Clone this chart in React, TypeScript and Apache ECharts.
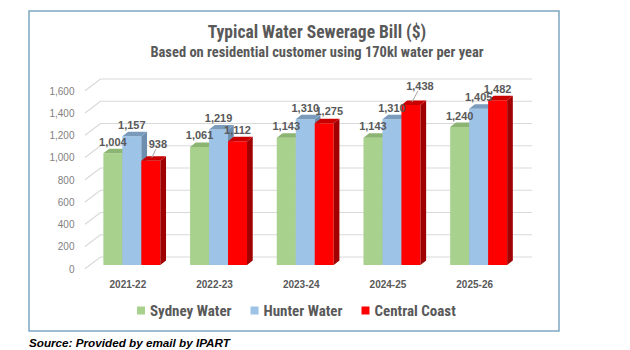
import React, { useEffect, useRef } from "react";
import * as echarts from "echarts";

// ---- data ----
const categories = ["2021-22", "2022-23", "2023-24", "2024-25", "2025-26"];
const sydneyWater = [1004, 1061, 1143, 1143, 1240];
const hunterWater = [1157, 1219, 1310, 1310, 1405];
const centralCoast = [938, 1112, 1275, 1438, 1482];
const seriesNames = ["Sydney Water", "Hunter Water", "Central Coast"];
const yTicks = [0, 200, 400, 600, 800, 1000, 1200, 1400, 1600];

const titleText = "Typical Water Sewerage Bill ($)";
const subtitleText = "Based on residential customer using 170kl water per year";
const sourceText = "Source: Provided by email by IPART";

// ---- style ----
const PALETTE = [
  { front: "#a9d18e", top: "#8cb573", side: "#7ea766" },
  { front: "#9dc3e6", top: "#7a9bbb", side: "#6d8eae" },
  { front: "#ff0000", top: "#c80000", side: "#a00000" },
];
const NARROW = "'Liberation Sans Narrow', 'Arial Narrow', 'Roboto Condensed', Lato, sans-serif";
const ARIAL = "'Liberation Sans', Arial, sans-serif";
const BAR_FRAC = 0.219; // one bar's share of the category band
const DEPTH_X = 5.7;
const DEPTH_Y = -4.5;
const LABEL_NUDGE: Record<string, [number, number]> = {
  "2-0": [7, -5],
  "2-2": [5, -1],
  "2-3": [9, -7.5],
};

const fmt = (v: number) => v.toLocaleString("en-US");

function barSeries(s: number, values: number[]) {
  const pal = PALETTE[s];
  return {
    type: "custom",
    name: seriesNames[s],
    itemStyle: { color: pal.front },
    data: values.map((v, i) => [i, v]),
    encode: { x: 0, y: 1 },
    renderItem: (params: any, api: any) => {
      const i = api.value(0);
      const v = api.value(1);
      const base = api.coord([i, 0]);
      const top = api.coord([i, v]);
      const band = api.size([1, 0])[0];
      const w = band * BAR_FRAC;
      const x0 = base[0] - 1.5 * w + s * w;
      const x1 = x0 + w;
      const yb = base[1];
      const yt = top[1];
      const cx = (x0 + x1) / 2;
      const nudge = LABEL_NUDGE[s + "-" + i] || [0, 0];
      const lx = cx + nudge[0];
      const ly = yt - 11.5 + nudge[1];
      const children: any[] = [
        {
          type: "rect",
          shape: { x: x0, y: yt, width: w, height: yb - yt },
          style: { fill: pal.front },
        },
        {
          type: "polygon",
          shape: {
            points: [
              [x1, yt],
              [x1 + DEPTH_X, yt + DEPTH_Y],
              [x1 + DEPTH_X, yb + DEPTH_Y],
              [x1, yb],
            ],
          },
          style: { fill: pal.side },
        },
        {
          type: "polygon",
          shape: {
            points: [
              [x0, yt],
              [x0 + DEPTH_X, yt + DEPTH_Y],
              [x1 + DEPTH_X, yt + DEPTH_Y],
              [x1, yt],
            ],
          },
          style: { fill: pal.top },
        },
        {
          type: "text",
          z2: 100,
          style: {
            text: fmt(v),
            x: lx,
            y: ly,
            align: "center",
            verticalAlign: "middle",
            fontSize: 11,
            fontWeight: "bold",
            fontFamily: ARIAL,
            fill: "#595959",
          },
        },
      ];
      if (nudge[0] > 6) {
        children.push({
          type: "line",
          z2: 100,
          shape: { x1: cx + 1, y1: yt - 3, x2: lx - 2, y2: ly + 5 },
          style: { stroke: "#a6a6a6", lineWidth: 1 },
        });
      }
      return { type: "group", children };
    },
  };
}

export default function App() {
  const ref = useRef<HTMLDivElement>(null);
  useEffect(() => {
    if (!ref.current) return;
    const chart = echarts.init(ref.current, null, { renderer: "svg" });
    chart.setOption({
      animation: false,
      backgroundColor: "#ffffff",
      grid: { left: 88.5, right: 108, top: 87, bottom: 85 },
      xAxis: {
        type: "category",
        data: categories,
        axisLine: { show: false },
        axisTick: { show: false },
        splitLine: { show: false },
        axisLabel: {
          margin: 14,
          fontSize: 10,
          fontWeight: "bold",
          fontFamily: ARIAL,
          color: "#595959",
          padding: [0, 8, 0, 0],
        },
      },
      yAxis: {
        type: "value",
        min: 0,
        max: 1600,
        interval: 200,
        axisLine: { show: false },
        axisTick: { show: false },
        splitLine: { show: false },
        axisLabel: {
          margin: 14,
          fontSize: 10,
          fontFamily: ARIAL,
          color: "#7f7f7f",
          verticalAlign: "top",
          lineHeight: 8,
          formatter: (v: number) => fmt(v),
        },
      },
      legend: {
        data: seriesNames,
        left: 137,
        top: 303,
        padding: 0,
        icon: "rect",
        itemWidth: 8,
        itemHeight: 8,
        itemGap: 19,
        textStyle: {
          fontSize: 15,
          fontWeight: "bold",
          fontFamily: NARROW,
          color: "#595959",
        },
      },
      graphic: [
        {
          type: "rect",
          shape: { x: 29, y: 11, width: 530, height: 320 },
          style: { fill: "none", stroke: "#7fa6c0", lineWidth: 1.5 },
          silent: true,
        },
        {
          type: "text",
          x: 317,
          y: 32,
          style: {
            text: titleText,
            align: "center",
            verticalAlign: "middle",
            fontSize: 17.5,
            fontWeight: "bold",
            fontFamily: NARROW,
            fill: "#595959",
          },
        },
        {
          type: "text",
          x: 317,
          y: 52,
          style: {
            text: subtitleText,
            align: "center",
            verticalAlign: "middle",
            fontSize: 14.5,
            fontWeight: "bold",
            fontFamily: NARROW,
            fill: "#595959",
          },
        },
        {
          type: "text",
          x: 29,
          y: 342,
          style: {
            text: sourceText,
            align: "left",
            verticalAlign: "middle",
            fontSize: 11.7,
            fontWeight: "bold",
            fontStyle: "italic",
            fontFamily: ARIAL,
            fill: "#000000",
          },
        },
      ],
      series: [
        {
          type: "custom",
          name: "grid",
          silent: true,
          z: 1,
          data: yTicks.map((v) => [0, v]),
          encode: { x: 0, y: 1 },
          renderItem: (params: any, api: any) => {
            const cs = params.coordSys;
            const y = api.coord([0, api.value(1)])[1];
            const left = cs.x;
            const right = cs.x + cs.width;
            return {
              type: "polyline",
              shape: {
                points: [
                  [left - 3.5, y + 3.7],
                  [left + 12, y - 8],
                  [right + 10, y - 8],
                ],
              },
              style: { stroke: "#d9d9d9", lineWidth: 1.2, fill: "none" },
            };
          },
        },
        barSeries(0, sydneyWater),
        barSeries(1, hunterWater),
        barSeries(2, centralCoast),
      ],
    });
    return () => chart.dispose();
  }, []);
  return (
    <div
      ref={ref}
      style={{ position: "fixed", left: 0, top: 0, width: 630, height: 350 }}
    />
  );
}
